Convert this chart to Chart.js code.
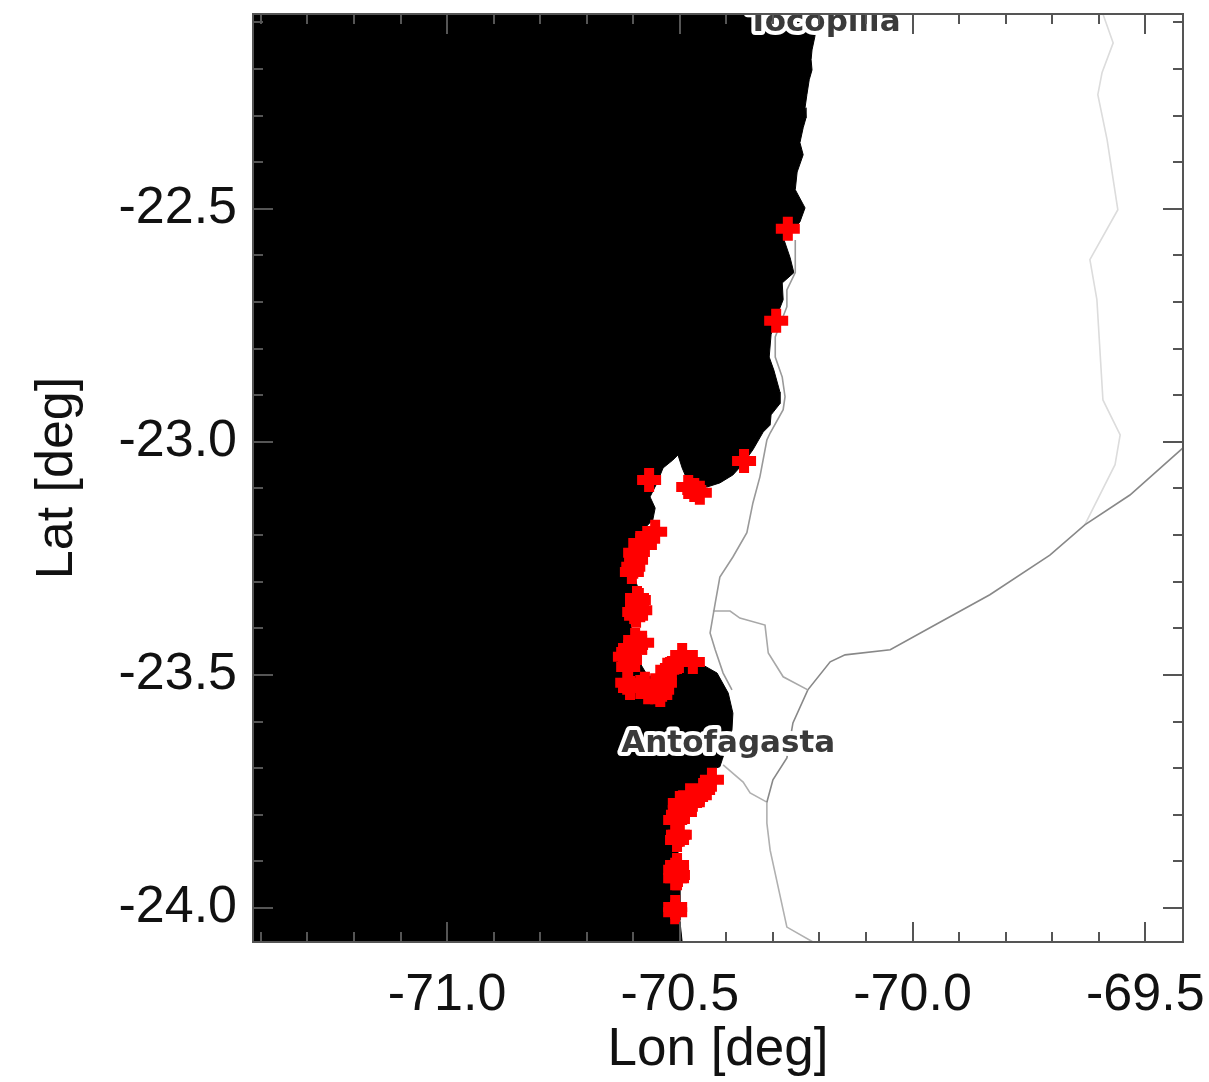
<!DOCTYPE html>
<html><head><meta charset="utf-8">
<style>html,body{margin:0;padding:0;background:#fff;overflow:hidden}canvas{display:block}</style>
<script src="https://cdn.jsdelivr.net/npm/chart.js@4"></script>
</head><body><canvas id="c" width="1209" height="1082"></canvas>
<script>
const lonRange=[-71.417,-69.419];
const latRange=[-24.073,-22.082];
const lonMajor=[-71,-70.5,-70,-69.5];
const latMajor=[-22.5,-23,-23.5,-24];
const lonMinor=[-71.4,-71.3,-71.2,-71.1,-70.9,-70.8,-70.7,-70.6,-70.4,-70.3,-70.2,-70.1,-69.9,-69.8,-69.7,-69.6];
const latMinor=[-22.1,-22.2,-22.3,-22.4,-22.6,-22.7,-22.8,-22.9,-23.1,-23.2,-23.3,-23.4,-23.6,-23.7,-23.8,-23.9,-24.0];
const oceanLon=[-71.417,-70.203,-70.210,-70.216,-70.218,-70.216,-70.222,-70.227,-70.231,-70.229,-70.235,-70.242,-70.235,-70.248,-70.252,-70.231,-70.242,-70.276,-70.263,-70.255,-70.280,-70.278,-70.295,-70.304,-70.308,-70.298,-70.285,-70.285,-70.304,-70.306,-70.321,-70.343,-70.366,-70.386,-70.414,-70.442,-70.484,-70.495,-70.504,-70.515,-70.536,-70.549,-70.564,-70.553,-70.558,-70.585,-70.603,-70.596,-70.590,-70.613,-70.603,-70.596,-70.568,-70.532,-70.500,-70.450,-70.420,-70.396,-70.386,-70.388,-70.409,-70.414,-70.435,-70.457,-70.500,-70.515,-70.504,-70.500,-70.500,-70.500,-70.495,-71.417];
const oceanLat=[-22.082,-22.082,-22.131,-22.159,-22.180,-22.202,-22.223,-22.255,-22.283,-22.305,-22.326,-22.358,-22.384,-22.421,-22.459,-22.498,-22.528,-22.567,-22.605,-22.637,-22.659,-22.695,-22.738,-22.770,-22.818,-22.846,-22.893,-22.918,-22.942,-22.964,-22.979,-23.017,-23.049,-23.071,-23.088,-23.097,-23.082,-23.056,-23.028,-23.039,-23.056,-23.088,-23.118,-23.142,-23.167,-23.195,-23.232,-23.296,-23.313,-23.354,-23.403,-23.457,-23.504,-23.494,-23.468,-23.479,-23.496,-23.539,-23.582,-23.618,-23.682,-23.697,-23.704,-23.743,-23.779,-23.811,-23.880,-23.918,-23.983,-24.026,-24.073,-24.073];
const coastRoadLon=[-70.252,-70.252,-70.270,-70.270,-70.295,-70.295,-70.280,-70.274,-70.278,-70.306,-70.313,-70.328,-70.343,-70.356,-70.386,-70.414,-70.424,-70.435,-70.424,-70.407,-70.388];
const coastRoadLat=[-22.567,-22.637,-22.674,-22.710,-22.775,-22.818,-22.861,-22.903,-22.931,-22.981,-22.996,-23.075,-23.131,-23.195,-23.247,-23.290,-23.346,-23.410,-23.446,-23.496,-23.532];
const branchRoadLon=[-70.429,-70.392,-70.371,-70.317,-70.310,-70.278,-70.225];
const branchRoadLat=[-23.363,-23.363,-23.378,-23.393,-23.453,-23.504,-23.532];
const eastRoadLon=[-69.419,-69.533,-69.630,-69.705,-69.834,-69.952,-70.048,-70.145,-70.177,-70.225,-70.257,-70.270,-70.300,-70.313];
const eastRoadLat=[-23.013,-23.114,-23.178,-23.243,-23.328,-23.393,-23.446,-23.457,-23.472,-23.532,-23.603,-23.678,-23.725,-23.773];
const southRoadLon=[-70.407,-70.364,-70.349,-70.313,-70.313,-70.306,-70.270,-70.214];
const southRoadLat=[-23.693,-23.730,-23.753,-23.773,-23.818,-23.876,-24.041,-24.073];
const inlandRoadLon=[-69.591,-69.569,-69.593,-69.602,-69.582,-69.559,-69.619,-69.604,-69.591,-69.554,-69.565,-69.630];
const inlandRoadLat=[-22.082,-22.144,-22.208,-22.255,-22.352,-22.502,-22.609,-22.695,-22.910,-22.985,-23.049,-23.178];
const eventLon=[-70.268,-70.293,-70.362,-70.566,-70.482,-70.469,-70.457,-70.553,-70.570,-70.585,-70.596,-70.600,-70.592,-70.592,-70.594,-70.581,-70.596,-70.607,-70.618,-70.611,-70.613,-70.585,-70.553,-70.532,-70.527,-70.506,-70.495,-70.472,-70.431,-70.450,-70.472,-70.493,-70.504,-70.504,-70.506,-70.506,-70.510,-70.457,-70.478,-70.489,-70.500,-70.510,-70.478,-70.500,-70.500,-70.506,-70.510,-70.504,-70.510,-70.506,-70.510,-70.588,-70.598,-70.585,-70.594,-70.611,-70.607,-70.596,-70.607,-70.568,-70.538,-70.542,-70.517,-70.575,-70.594,-70.603,-70.575,-70.553];
const eventLat=[-22.543,-22.740,-23.041,-23.082,-23.097,-23.103,-23.109,-23.193,-23.206,-23.217,-23.238,-23.268,-23.335,-23.354,-23.373,-23.431,-23.425,-23.442,-23.461,-23.483,-23.517,-23.526,-23.537,-23.517,-23.489,-23.472,-23.457,-23.472,-23.725,-23.747,-23.768,-23.783,-23.800,-23.843,-23.918,-23.936,-23.998,-23.758,-23.775,-23.794,-23.775,-23.811,-23.758,-23.790,-23.843,-23.854,-23.918,-23.929,-23.936,-23.908,-24.009,-23.339,-23.365,-23.361,-23.436,-23.451,-23.468,-23.446,-23.528,-23.537,-23.532,-23.543,-23.485,-23.221,-23.253,-23.279,-23.519,-23.522];
const placeNames=['Antofagasta','Tocopilla'];
const placeLon=[-70.396,-70.190];
const placeLat=[-23.665,-22.118];

const pts=(a,b)=>a.map((v,i)=>({x:v,y:b[i]}));
const road=(lo,la,color)=>({data:pts(lo,la),showLine:true,pointRadius:0,borderColor:color,borderWidth:1.6,fill:false,tension:0});
const FONT='"Liberation Sans", Arial, sans-serif';
const noOverflow=s=>{s.paddingTop=0;s.paddingBottom=0;s.paddingLeft=0;s.paddingRight=0;};

const decor={id:'decor',afterDatasetsDraw(ch){
  const {ctx,chartArea:a,scales:{x,y}}=ch;
  ctx.save();
  ctx.beginPath();ctx.rect(a.left,a.top,a.right-a.left,a.bottom-a.top);ctx.clip();
  ctx.font='bold 31px "DejaVu Sans"';ctx.textAlign='center';ctx.textBaseline='alphabetic';ctx.lineJoin='round';
  placeNames.forEach((n,i)=>{
    const px=x.getPixelForValue(placeLon[i]),py=y.getPixelForValue(placeLat[i]);
    ctx.strokeStyle='#ffffff';ctx.lineWidth=8;ctx.strokeText(n,px,py);
    ctx.fillStyle='#3a3a3a';ctx.fillText(n,px,py);
  });
  ctx.restore();
  ctx.save();
  ctx.strokeStyle='#555555';ctx.lineWidth=2;
  ctx.strokeRect(a.left,a.top,a.right-a.left,a.bottom-a.top);
  const tick=(vals,len)=>{
    vals[0].forEach(v=>{const p=Math.round(x.getPixelForValue(v));
      ctx.beginPath();ctx.moveTo(p,a.top);ctx.lineTo(p,a.top+len);ctx.moveTo(p,a.bottom);ctx.lineTo(p,a.bottom-len);ctx.stroke();});
    vals[1].forEach(v=>{const p=Math.round(y.getPixelForValue(v));
      ctx.beginPath();ctx.moveTo(a.left,p);ctx.lineTo(a.left+len,p);ctx.moveTo(a.right,p);ctx.lineTo(a.right-len,p);ctx.stroke();});
  };
  tick([lonMajor,latMajor],20);
  tick([lonMinor,latMinor],10);
  ctx.restore();
}};

new Chart(document.getElementById('c'),{
  type:'scatter',
  data:{datasets:[
    {data:pts(eventLon,eventLat),pointStyle:'cross',pointRadius:12,pointBorderWidth:10,pointBorderColor:'#ff0000',pointBackgroundColor:'#ff0000',showLine:false},
    road(coastRoadLon,coastRoadLat,'#999999'),
    road(branchRoadLon,branchRoadLat,'#a8a8a8'),
    road(eastRoadLon,eastRoadLat,'#888888'),
    road(southRoadLon,southRoadLat,'#b0b0b0'),
    road(inlandRoadLon,inlandRoadLat,'#dcdcdc'),
    {data:pts(oceanLon,oceanLat),showLine:true,pointRadius:0,borderColor:'#000000',borderWidth:1,backgroundColor:'#000000',fill:'shape',tension:0}
  ]},
  options:{
    responsive:false,animation:false,devicePixelRatio:1,
    layout:{autoPadding:false,padding:{left:0,right:26,top:14,bottom:0}},
    plugins:{legend:{display:false},tooltip:{enabled:false},title:{display:false}},
    scales:{
      x:{type:'linear',min:lonRange[0],max:lonRange[1],
        afterBuildTicks(s){s.ticks=lonMajor.map(v=>({value:v}));},
        afterFit(s){s.height=140;noOverflow(s);},
        grid:{display:false,drawTicks:false},border:{display:false},
        ticks:{autoSkip:false,maxRotation:0,padding:22,color:'#111',font:{family:FONT,size:52},callback:v=>v.toFixed(1)},
        title:{display:true,text:'Lon [deg]',color:'#111',font:{family:FONT,size:53},padding:{top:0,bottom:0}}},
      y:{type:'linear',min:latRange[0],max:latRange[1],
        afterBuildTicks(s){s.ticks=latMajor.map(v=>({value:v}));},
        afterFit(s){s.width=253;noOverflow(s);},
        grid:{display:false,drawTicks:false},border:{display:false},
        ticks:{autoSkip:false,padding:16,color:'#111',font:{family:FONT,size:52},callback:v=>v.toFixed(1)},
        title:{display:true,text:'Lat [deg]',color:'#111',font:{family:FONT,size:52},padding:{top:26,bottom:0}}}
    }
  },
  plugins:[decor]
});
</script>
</body></html>
